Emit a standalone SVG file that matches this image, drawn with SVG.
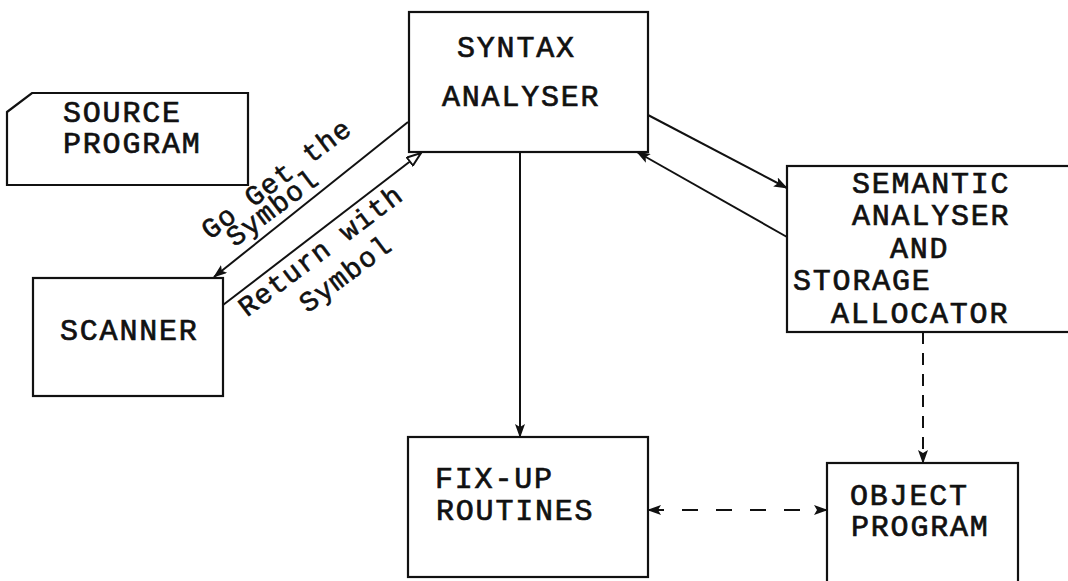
<svg xmlns="http://www.w3.org/2000/svg" width="1068" height="581" viewBox="0 0 1068 581">
<style>
.box{fill:none;stroke:#111;stroke-width:2.2}
.t{font-family:"Liberation Mono","DejaVu Sans Mono",monospace;font-size:30px;font-weight:normal;fill:#111;stroke:#111;stroke-width:0.7px;letter-spacing:1.8px}
.lt{font-family:"Liberation Mono","DejaVu Sans Mono",monospace;font-size:28px;font-weight:normal;fill:#111;stroke:#111;stroke-width:0.6px;letter-spacing:1.2px;text-anchor:middle}
.c{fill:none;stroke:#111;stroke-width:2}
.d1{stroke-dasharray:12 9}
.d2{stroke-dasharray:16 18}
</style>
<defs>
<marker id="af" viewBox="0 0 14 10" refX="13" refY="5" markerWidth="14" markerHeight="10" markerUnits="userSpaceOnUse" orient="auto-start-reverse">
<path d="M0,0 L14,5 L0,10 L3,5 Z" fill="#111"/>
</marker>
<marker id="ao" viewBox="0 0 16 12" refX="15" refY="6" markerWidth="16" markerHeight="12" markerUnits="userSpaceOnUse" orient="auto">
<path d="M1,1 L15,6 L1,11 Z" fill="#fff" stroke="#111" stroke-width="2"/>
</marker>
</defs>
<rect width="1068" height="581" fill="#fff"/>
<g id="source-program">
<path class="box" d="M7,112 L32,93 L248,93 L248,185 L7,185 Z"/>
<text class="t" x="63" y="122">SOURCE</text>
<text class="t" x="63" y="153">PROGRAM</text>
</g>
<g id="syntax-analyser">
<rect class="box" x="409" y="12" width="239" height="140"/>
<text class="t" x="457" y="57">SYNTAX</text>
<text class="t" x="442" y="106">ANALYSER</text>
</g>
<g id="scanner">
<rect class="box" x="33" y="278" width="190" height="118"/>
<text class="t" x="60" y="340">SCANNER</text>
</g>
<g id="semantic-analyser">
<rect class="box" x="787" y="166" width="300" height="166"/>
<text class="t" x="852" y="193">SEMANTIC</text>
<text class="t" x="852" y="225">ANALYSER</text>
<text class="t" x="890" y="258">AND</text>
<text class="t" x="793" y="290">STORAGE</text>
<text class="t" x="831" y="323">ALLOCATOR</text>
</g>
<g id="fix-up-routines">
<rect class="box" x="408" y="437" width="240" height="140"/>
<text class="t" x="435" y="488">FIX-UP</text>
<text class="t" x="436" y="520">ROUTINES</text>
</g>
<g id="object-program">
<rect class="box" x="827" y="463" width="191" height="140"/>
<text class="t" x="850" y="505">OBJECT</text>
<text class="t" x="851" y="536">PROGRAM</text>
</g>
<g id="connectors">
<line class="c" x1="408" y1="122" x2="214" y2="277" marker-end="url(#af)"/>
<line class="c" x1="223" y1="305" x2="421" y2="153" marker-end="url(#ao)"/>
<line class="c" x1="648" y1="115" x2="787" y2="188" marker-end="url(#af)"/>
<line class="c" x1="787" y1="237" x2="637" y2="152" marker-end="url(#af)"/>
<line class="c" x1="520" y1="152" x2="520" y2="437" marker-end="url(#af)"/>
<line class="c d1" x1="923" y1="332" x2="923" y2="463" marker-end="url(#af)"/>
<line class="c d2" x1="648" y1="510" x2="827" y2="510" marker-start="url(#af)" marker-end="url(#af)"/>
<text class="lt" transform="rotate(-37 282 186)" x="282" y="186">Go Get the</text>
<text class="lt" transform="rotate(-37 278 215)" x="278" y="215">Symbol</text>
<text class="lt" transform="rotate(-37 326 258)" x="326" y="258">Return with</text>
<text class="lt" transform="rotate(-37 351 281)" x="351" y="281">Symbol</text>
</g>
</svg>
